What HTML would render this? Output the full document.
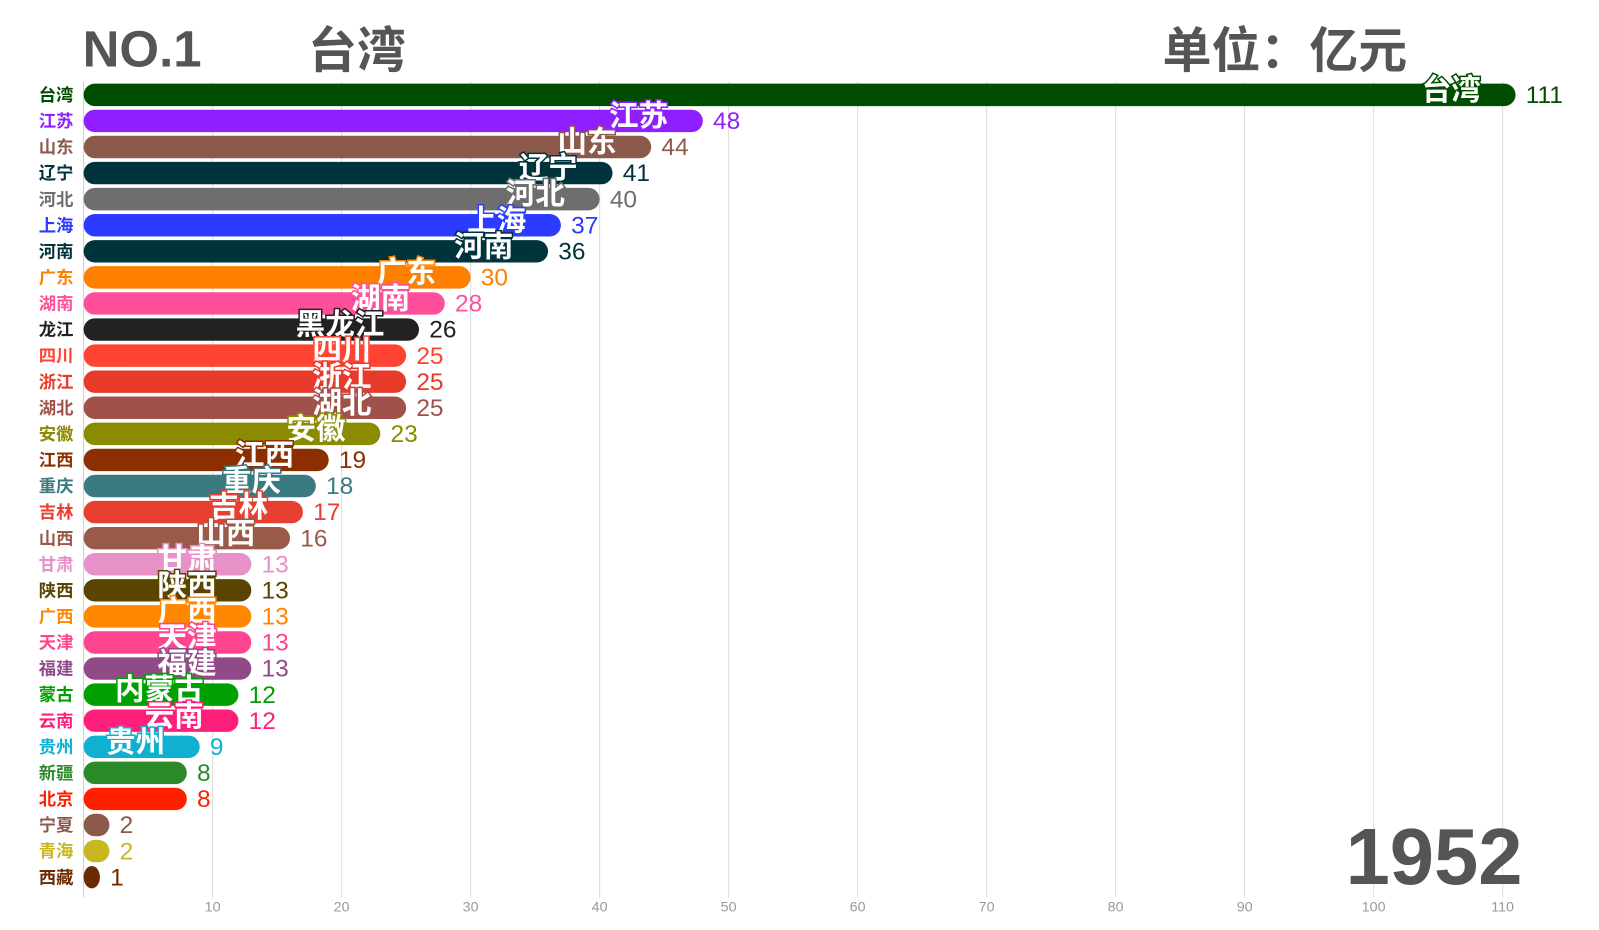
<!DOCTYPE html>
<html><head><meta charset="utf-8"><style>
body{margin:0;background:#fff;width:1599px;height:925px;overflow:hidden;font-family:"Liberation Sans","Noto Sans CJK SC",sans-serif;}
svg text{font-family:"Liberation Sans","Noto Sans CJK SC",sans-serif;}
</style></head><body>
<svg width="1599" height="925" viewBox="0 0 1568 907" preserveAspectRatio="none" xmlns="http://www.w3.org/2000/svg" id="s">
<g id="grid"></g>
<line x1="82" y1="80" x2="82" y2="880" stroke="#ccc" stroke-width="1"/>
<g id="bars"></g>
<text x="81" y="65" font-size="50" font-weight="bold" fill="#555">NO.1</text>
<text x="302" y="66" font-size="48" font-weight="bold" fill="#555">台湾</text>
<text x="1140" y="66" font-size="48" font-weight="bold" fill="#555">单位：亿元</text>
<text x="1493" y="867" font-size="78" font-weight="bold" fill="#555" text-anchor="end">1952</text>
</svg>
<script>
var d=[["台湾","台湾",111,"#004d00"],["江苏","江苏",48,"#8f1fff"],["山东","山东",44,"#8b5a4a"],["辽宁","辽宁",41,"#00333b"],["河北","河北",40,"#6e6e6e"],["上海","上海",37,"#2b3bff"],["河南","河南",36,"#00333b"],["广东","广东",30,"#ff8000"],["湖南","湖南",28,"#ff4f9a"],["龙江","黑龙江",26,"#222222"],["四川","四川",25,"#ff4433"],["浙江","浙江",25,"#e83a2a"],["湖北","湖北",25,"#a0524a"],["安徽","安徽",23,"#8b8b00"],["江西","江西",19,"#8b2f00"],["重庆","重庆",18,"#3a7a80"],["吉林","吉林",17,"#e84030"],["山西","山西",16,"#9a5a4a"],["甘肃","甘肃",13,"#e890c8"],["陕西","陕西",13,"#5a4500"],["广西","广西",13,"#ff8800"],["天津","天津",13,"#ff4490"],["福建","福建",13,"#904a88"],["蒙古","内蒙古",12,"#00a000"],["云南","云南",12,"#ff1f7a"],["贵州","贵州",9,"#10b0d0"],["新疆","新疆",8,"#2a8a2a"],["北京","北京",8,"#ff2000"],["宁夏","宁夏",2,"#8b5a4a"],["青海","青海",2,"#c8b820"],["西藏","西藏",1,"#6b2a00"]];
var ns="http://www.w3.org/2000/svg",g=document.getElementById("bars"),gr=document.getElementById("grid");
function el(t,a,p,txt){var e=document.createElementNS(ns,t);for(var k in a)e.setAttribute(k,a[k]);if(txt!==undefined)e.textContent=txt;p.appendChild(e);return e;}
var sc=12.65,x0=82;
for(var i=1;i<=11;i++){var x=x0+i*10*sc;el("line",{x1:x,y1:80,x2:x,y2:880,stroke:"#ddd","stroke-width":1},gr);el("text",{x:x,y:894,"font-size":14,fill:"#999","text-anchor":"middle"},gr,String(i*10));}
var labels=[];
d.forEach(function(r,i){var cy=93+i*25.57,h=22,w=Math.max(r[2]*sc,r[2]<3?(r[2]==1?16:22):h);var end=x0+w;
el("rect",{x:x0,y:cy-h/2,width:w,height:h,rx:11,ry:11,fill:r[3]},g);
el("text",{x:72,y:cy+6,"font-size":17,"font-weight":"bold",fill:r[3],"text-anchor":"end"},g,r[0]);
el("text",{x:end+10,y:cy+8,"font-size":24,fill:r[3]},g,String(r[2]));
if(r[2]>=9)labels.push([end-34,cy+5,r[1],r[3]]);});
labels.forEach(function(l){el("text",{x:l[0],y:l[1],"font-size":29,"font-weight":"bold",fill:"#fff",stroke:l[3],"stroke-width":3,"paint-order":"stroke","text-anchor":"end"},g,l[2]);});
</script>
</body></html>
